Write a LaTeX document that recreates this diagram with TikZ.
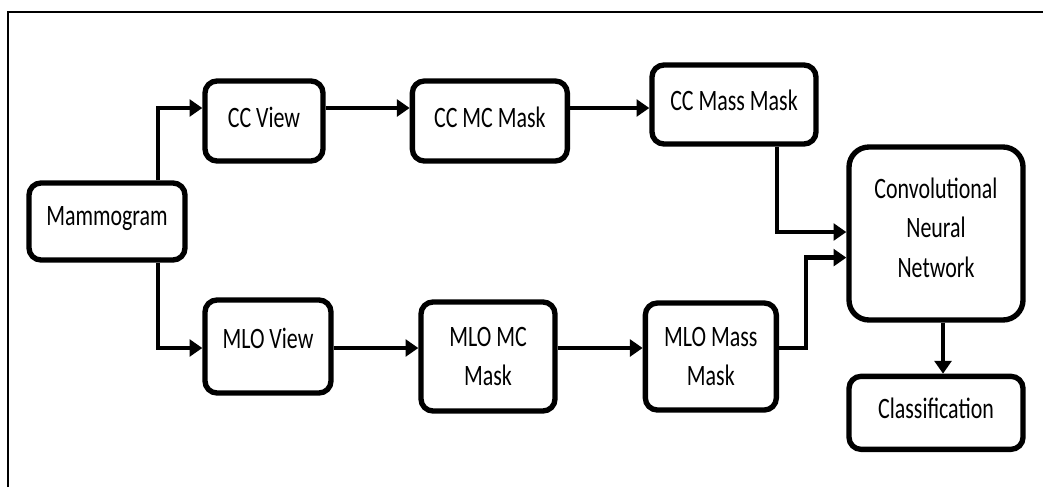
\documentclass[tikz,border=0pt]{standalone}
\usepackage{fontspec}
\setmainfont{Carlito}
\usepackage{graphicx}
\usepackage{tikz}
\usetikzlibrary{positioning, arrows.meta}
\newcommand{\tallText}[1]{\scalebox{1}[1.35]{#1}}
\tikzset{
    stage/.style={
        rectangle, draw, line width=3.8pt,
        rounded corners=0.3cm,
        align=center, inner sep=0pt,
        font=\fontsize{15.6}{28}\selectfont
    },
    arrow/.style={
        -{Triangle[length=0.32cm, width=0.42cm]}, line width=3pt
    },
    frameline/.style={
        line width=1.8pt
    }
}

\begin{document}
\begin{tikzpicture}
    \useasboundingbox (0,0) rectangle (26.075,-12.175);

    % FRAME
    \draw[frameline] (0.2,-12.175) |- (26.075,-0.3);

    % INPUT
    \node[stage, minimum width=3.9cm, minimum height=1.925cm, text depth=0.3cm] (mammo) at (2.675,-5.5375) {\tallText{Mammogram}};

    % CC branch
    \node[stage, minimum width=2.95cm, minimum height=2cm, text depth=0.2cm] (ccview) at (6.6,-3.025) {\tallText{CC View}};
    \node[stage, minimum width=3.875cm, minimum height=2cm, text depth=0.2cm, right=2.1cm of ccview] (ccmc) {\tallText{CC MC Mask}};
    \node[stage, minimum width=4.1cm, minimum height=1.975cm, text depth=0.2cm] (ccmass) at (18.35,-2.6125) {\tallText{CC Mass Mask}};

    % MLO branch
    \node[stage, minimum width=3.15cm, minimum height=2.325cm, text depth=0.4cm] (mloview) at (6.7,-8.6625) {\tallText{MLO View}};
    \node[stage, minimum width=3.35cm, minimum height=2.725cm] (mlomc) at (12.2,-8.9125) {\tallText{MLO MC}\\\tallText{Mask}};
    \node[stage, minimum width=3.275cm, minimum height=2.675cm, right=2.125cm of mlomc] (mlomass) {\tallText{MLO Mass}\\\tallText{Mask}};

    % CNN & output
    \node[stage, rounded corners=0.5cm, minimum width=4.35cm, minimum height=4.325cm, text depth=0.3cm] (cnn) at (23.4,-5.8375) {\tallText{Convolutional}\\\tallText{Neural}\\\tallText{Network}};
    \node[stage, minimum width=4.35cm, minimum height=1.825cm, text depth=0.25cm, below=1.275cm of cnn] (classif) {\tallText{Classification}};

    % Helper coordinates
    \coordinate (ccrow) at (0,-2.7);
    \coordinate (mlorow) at (0,-8.7);
    \coordinate (split) at (3.95,0);
    \coordinate (ccdrop) at (19.425,-5.8);
    \coordinate (mlorise) at (20.15,-6.44);
    \coordinate (cnnout) at (23.575,0);

    % Connections
    % Mammogram -> views
    \draw[arrow] (split |- mammo.north) |- (ccview.west |- ccrow);
    \draw[arrow] (split |- mammo.south) |- (mloview.west |- mlorow);

    % CC row
    \draw[arrow] (ccview.east |- ccrow) -- (ccmc.west |- ccrow);
    \draw[arrow] (ccmc.east |- ccrow) -- (ccmass.west |- ccrow);

    % MLO row
    \draw[arrow] (mloview.east |- mlorow) -- (mlomc.west |- mlorow);
    \draw[arrow] (mlomc.east |- mlorow) -- (mlomass.west |- mlorow);

    % Masks -> CNN
    \draw[arrow] (ccdrop |- ccmass.south) |- (cnn.west |- ccdrop);
    \draw[arrow] (mlomass.east |- mlorow) -| (mlorise) -- (cnn.west |- mlorise);

    % CNN -> Classification
    \draw[arrow] (cnnout |- cnn.south) -- (cnnout |- classif.north);

\end{tikzpicture}
\end{document}
